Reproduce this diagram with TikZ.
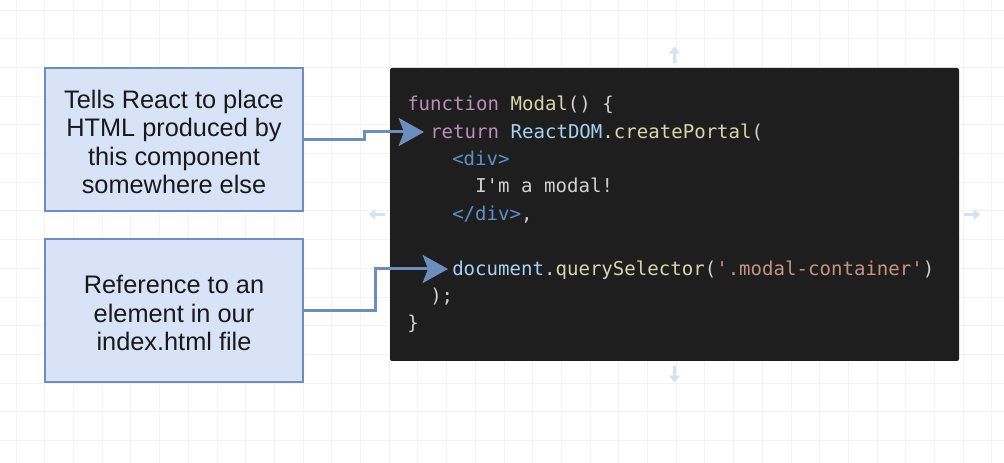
\documentclass[tikz,border=0pt]{standalone}
\usepackage{xcolor}
\usepackage{fontspec}
\setmainfont{Liberation Sans}
\setmonofont{DejaVu Sans Mono}
\usepackage{tikz}
\usetikzlibrary{arrows.meta}

\definecolor{boxfill}{HTML}{D8E3F8}
\definecolor{boxline}{HTML}{6C8EBF}
\definecolor{codebg}{HTML}{1E1E1E}
\definecolor{gridcol}{HTML}{F3F3F3}
\definecolor{handlecol}{HTML}{D3E2F5}
\definecolor{kwcol}{HTML}{BB8DB9}
\definecolor{fncol}{HTML}{D6D6AA}
\definecolor{varcol}{HTML}{A4D2F0}
\definecolor{tagcol}{HTML}{5A90CC}
\definecolor{strcol}{HTML}{C8937C}
\definecolor{plcol}{HTML}{D0D0D0}

\newcommand{\kw}[1]{\textcolor{kwcol}{#1}}
\newcommand{\fn}[1]{\textcolor{fncol}{#1}}
\newcommand{\vr}[1]{\textcolor{varcol}{#1}}
\newcommand{\tg}[1]{\textcolor{tagcol}{#1}}
\newcommand{\st}[1]{\textcolor{strcol}{#1}}

\begin{document}
\begin{tikzpicture}[x=0.75pt, y=-0.75pt,
  note/.style={draw=boxline, fill=boxfill, line width=1.9pt, align=center,
    minimum width=193.5pt, minimum height=107.25pt, inner sep=0pt,
    text=black!90, font=\fontsize{19}{21.4}\selectfont},
  codeline/.style={anchor=base west, inner sep=0pt, text=plcol,
    font=\ttfamily\fontsize{14.3}{17}\selectfont},
  link/.style={draw=boxline, line width=2.25pt,
    -{Stealth[length=19pt, width=21pt, inset=4pt]}},
  handle/.style={draw=handlecol, line width=2pt,
    -{Triangle[length=5pt, width=8pt]}}]

% page and grid
\useasboundingbox (0,0) rectangle (1004,463);
\fill[white] (0,0) rectangle (1004,463);
\foreach \gx in {0,...,34}
  \draw[gridcol, line width=0.6pt] ({16+28.7*\gx},0) -- ({16+28.7*\gx},463);
\foreach \gy in {0,...,16}
  \draw[gridcol, line width=0.6pt] (0,{10+28.7*\gy}) -- (1004,{10+28.7*\gy});

% explanation boxes
\node[note] (portal) at (174,139.5) {};
\node[note] (target) at (174,310.5) {};
\node[align=center, text=black!90, font=\fontsize{19}{21.4}\selectfont]
  (portaltext) at (174,142) {Tells React to place\\HTML produced by\\this component\\somewhere else};
\node[align=center, text=black!90, font=\fontsize{19}{21.4}\selectfont]
  (targettext) at (174,313) {Reference to an\\element in our\\index.html file};

% code panel
\node[fill=codebg, rounded corners=1.5pt, minimum width=426.75pt,
  minimum height=219.75pt, inner sep=0pt] (code) at (674.5,214.5) {};

\node[codeline] (l1) at (407,111) {\kw{function} \fn{Modal}() \{};
\node[codeline] (l2) at (430,139) {\kw{return} \vr{ReactDOM}.\fn{createPortal}(};
\node[codeline] (l3) at (452,166) {\tg{<div>}};
\node[codeline] (l4) at (475,193) {I'm a modal!};
\node[codeline] (l5) at (452,221) {\tg{</div>},};
\node[codeline] (l6) at (452,276) {\vr{document}.\fn{querySelector}(\st{'.modal-container'})};
\node[codeline] (l7) at (430,303) {);};
\node[codeline] (l8) at (407,330) {\}};

% selection handles
\draw[handle] (code.north) ++(0,-5) -- ++(0,-16);
\draw[handle] (code.south) ++(0,5) -- ++(0,16);
\draw[handle] (code.west) ++(-5,0) -- ++(-16,0);
\draw[handle] (code.east) ++(5,0) -- ++(16,0);

% connectors
\coordinate (bend1) at (364,132);
\coordinate (tip1) at (424,132);
\coordinate (bend2) at (375,269);
\coordinate (tip2) at (448,269);
\draw[link] (portal.east) -| (bend1) -- (tip1);
\draw[link] (target.east) -| (bend2) -- (tip2);
\end{tikzpicture}
\end{document}
